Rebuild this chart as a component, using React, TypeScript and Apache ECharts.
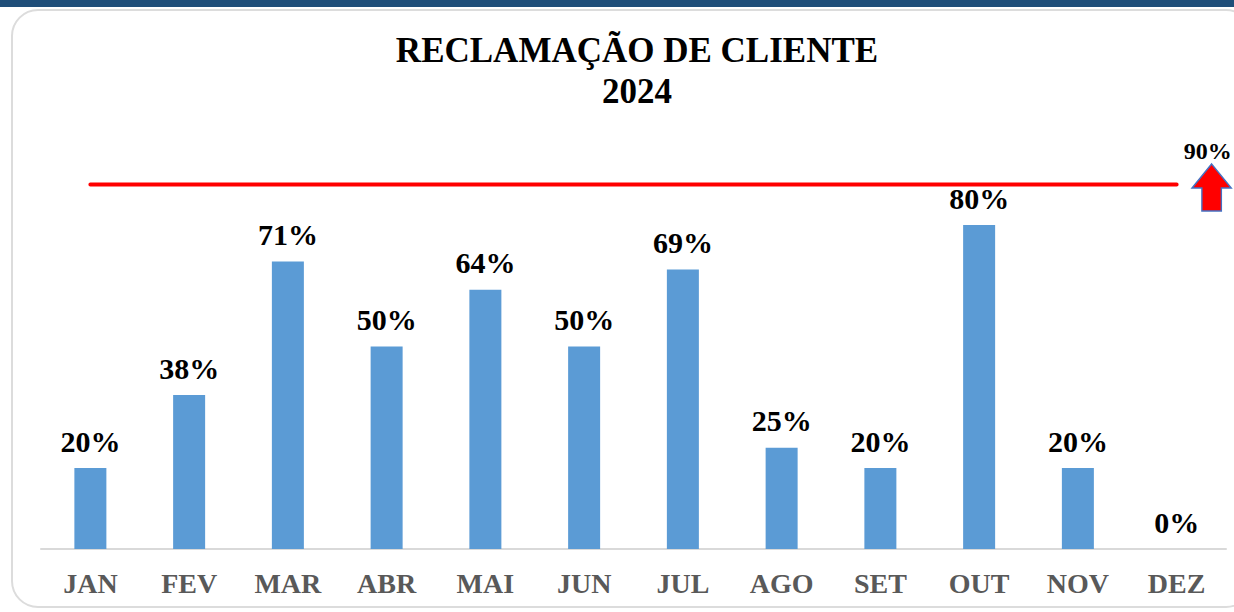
import React, { useEffect, useRef } from "react";
import * as echarts from "echarts";

const months = ["JAN", "FEV", "MAR", "ABR", "MAI", "JUN", "JUL", "AGO", "SET", "OUT", "NOV", "DEZ"];
const values = [20, 38, 71, 50, 64, 50, 69, 25, 20, 80, 20, 0];
const targetValue = 90;
const target = months.map(() => targetValue);

const serif = '"Liberation Serif", "Times New Roman", serif';

export default function App() {
  const ref = useRef<HTMLDivElement>(null);
  useEffect(() => {
    document.body.style.margin = "0";
    const chart = echarts.init(ref.current!, null, { renderer: "svg" });
    chart.setOption({
      animation: false,
      backgroundColor: "#ffffff",
      graphic: [
        { type: "rect", shape: { x: 0, y: 0, width: 1234, height: 7 }, style: { fill: "#1F4E79" }, z: -1 },
        {
          type: "rect",
          shape: { x: 12, y: 10, width: 1240, height: 597, r: 26 },
          style: { fill: "none", stroke: "#dcdcdc", lineWidth: 2 },
          z: -1,
        },
      ],
      title: {
        text: "RECLAMAÇÃO DE CLIENTE\n2024",
        left: 632,
        top: 25,
        textAlign: "center",
        textStyle: { fontFamily: serif, fontWeight: "bold", fontSize: 35, color: "#000", lineHeight: 41 },
      },
      grid: { left: 41, right: 8, top: 144, bottom: 63 },
      xAxis: {
        type: "category",
        data: months,
        axisLine: { lineStyle: { color: "#d9d9d9", width: 2 } },
        axisTick: { show: false },
        axisLabel: { fontFamily: serif, fontWeight: "bold", fontSize: 28, color: "#595959", margin: 20 },
      },
      yAxis: { type: "value", min: 0, max: 100, show: false, splitLine: { show: false } },
      series: [
        {
          type: "bar",
          data: values,
          barWidth: 32,
          itemStyle: { color: "#5B9BD5" },
          label: {
            show: true,
            position: "top",
            distance: 12,
            formatter: "{c}%",
            fontFamily: serif,
            fontWeight: "bold",
            fontSize: 30,
            color: "#000",
          },
        },
        {
          type: "line",
          data: target,
          showSymbol: false,
          symbol: "none",
          lineStyle: { color: "#ff0000", width: 4, cap: "round" },
          z: 5,
          markPoint: {
            data: [{ coord: [11, targetValue], value: targetValue }],
            symbol: "path://M20,0 L40,24 L30,24 L30,47 L10,47 L10,24 L0,24 Z",
            symbolSize: [39, 47],
            symbolOffset: [35, 3],
            itemStyle: { color: "#ff0000", borderColor: "#4472C4", borderWidth: 1.5 },
            label: {
              show: true,
              position: "top",
              distance: 0,
              offset: [-4, 0],
              formatter: "{c}%",
              fontFamily: serif,
              fontWeight: "bold",
              fontSize: 24,
              color: "#000",
            },
          },
        },
      ],
    });
    return () => chart.dispose();
  }, []);
  return <div ref={ref} style={{ width: 1234, height: 612 }} />;
}
